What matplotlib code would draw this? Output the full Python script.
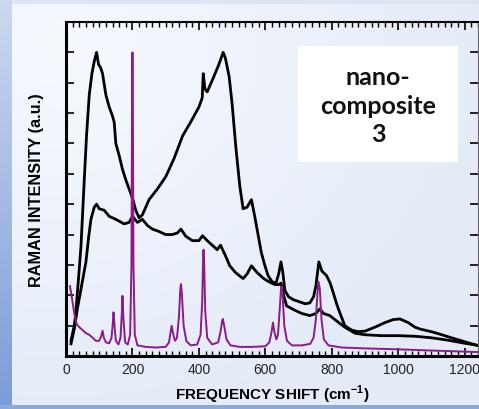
import numpy as np
import matplotlib.pyplot as plt
from matplotlib.patches import Rectangle

# spectrum A (two big humps)
freq_a = [15, 25, 30, 38, 45, 55, 62, 70, 78, 85, 92, 98, 104, 110, 120, 130, 140, 145, 150, 160,
          170, 180, 190, 200, 210, 220, 230, 250, 275, 300, 325, 351, 375, 400, 410, 413, 418, 425,
          441, 460, 473, 480, 491, 500, 511, 523, 533, 545, 558, 568, 578, 588, 598, 608, 620, 632,
          640, 647, 652, 659, 670, 685, 704, 720, 734, 745, 752, 761, 770, 784, 795, 804, 815, 825,
          839, 860, 880, 900, 930, 960, 985, 1005, 1030, 1050, 1065, 1100, 1125, 1160, 1200, 1240]
int_a = [0.5, 1.0, 1.5, 2.6, 3.6, 5.8, 7.3, 8.6, 9.3, 9.7, 10.0, 9.6, 9.5, 9.3, 8.6, 8.2, 7.9, 7.7, 7.0, 6.6,
         6.15, 5.8, 5.5, 5.2, 4.8, 4.55, 4.65, 5.15, 5.5, 5.9, 6.5, 7.25, 7.7, 8.2, 8.5, 9.3, 8.8, 8.7,
         9.1, 9.6, 10.0, 9.8, 9.2, 8.3, 6.9, 5.6, 4.85, 4.9, 5.15, 4.6, 4.0, 3.4, 3.0, 2.65, 2.45, 2.4,
         2.7, 3.1, 2.8, 2.15, 1.95, 1.85, 1.78, 1.72, 1.75, 1.95, 2.3, 3.1, 2.8, 2.65, 2.4, 2.1, 1.7, 1.4,
         1.0, 0.85, 0.8, 0.82, 0.95, 1.1, 1.2, 1.22, 1.1, 0.95, 0.89, 0.8, 0.72, 0.6, 0.47, 0.34]

# spectrum B (broad, flatter)
freq_b = [15, 25, 35, 45, 60, 68, 75, 85, 92, 100, 115, 130, 150, 175, 190, 200, 215, 230, 245, 260,
          280, 300, 320, 335, 346, 360, 380, 400, 411, 425, 440, 455, 465, 480, 493, 510, 533, 545,
          558, 575, 595, 613, 630, 640, 647, 655, 664, 690, 710, 734, 752, 764, 775, 794, 815, 839,
          870, 900, 950, 1000, 1050, 1100, 1150, 1200, 1240]
int_b = [0.4, 0.9, 1.6, 2.2, 3.1, 3.9, 4.5, 4.9, 5.0, 4.85, 4.8, 4.6, 4.5, 4.35, 4.4, 4.6, 4.4, 4.5, 4.3, 4.18,
         4.1, 4.0, 4.0, 4.05, 4.18, 3.95, 3.8, 3.8, 3.96, 3.8, 3.65, 3.5, 3.65, 3.3, 2.97, 2.75, 2.55, 2.7,
         2.97, 2.75, 2.55, 2.43, 2.35, 2.35, 2.4, 2.0, 1.65, 1.5, 1.4, 1.33, 1.4, 1.55, 1.4, 1.33, 1.15, 0.95,
         0.75, 0.7, 0.67, 0.67, 0.65, 0.6, 0.52, 0.42, 0.35]

# reference spectrum (purple, sharp lines)
freq_p = [12, 18, 25, 32, 40, 50, 60, 70, 80, 90, 100, 106, 110, 114, 120, 130, 137, 141, 143, 146,
          150, 158, 164, 168, 170, 173, 178, 186, 193, 197, 199, 200, 201, 203, 207, 215, 240, 270,
          300, 310, 315, 318, 322, 328, 334, 340, 344, 346, 349, 354, 362, 375, 395, 405, 410, 413,
          414, 416, 419, 425, 440, 458, 465, 470, 472, 476, 483, 495, 523, 560, 600, 612, 618, 623,
          627, 633, 638, 643, 647, 649, 652, 657, 665, 680, 710, 735, 745, 752, 757, 760, 764, 769,
          776, 790, 830, 900, 1000, 1100, 1240]
int_p = [2.3, 1.9, 1.4, 1.05, 0.95, 0.85, 0.75, 0.7, 0.6, 0.5, 0.5, 0.65, 0.83, 0.6, 0.45, 0.42, 0.6, 1.1, 1.44, 1.0,
         0.5, 0.38, 0.6, 1.4, 1.98, 1.2, 0.45, 0.38, 0.7, 3.0, 9.0, 10.0, 9.0, 3.0, 0.7, 0.35, 0.3, 0.28,
         0.3, 0.45, 0.8, 1.0, 0.75, 0.5, 0.6, 1.3, 2.2, 2.37, 2.0, 1.0, 0.5, 0.35, 0.38, 0.7, 1.8, 3.4,
         3.5, 3.0, 1.5, 0.6, 0.38, 0.45, 0.8, 1.15, 1.22, 1.0, 0.55, 0.35, 0.3, 0.3, 0.32, 0.45, 0.75, 1.1,
         0.8, 0.55, 0.7, 1.5, 2.2, 2.3, 2.0, 1.0, 0.5, 0.35, 0.35, 0.4, 0.6, 1.2, 2.1, 2.45, 2.2, 1.2,
         0.55, 0.35, 0.28, 0.25, 0.22, 0.18, 0.13]

label_text = "nano-\ncomposite\n3"

W, H = 479, 410
fig = plt.figure(figsize=(W / 100, H / 100), dpi=100)

# background gradient
bg = fig.add_axes([0, 0, 1, 1])
yy, xx = np.mgrid[0:H, 0:W]
d = np.clip(np.hypot((xx - 60) / 420.0, (yy - 40) / 380.0), 0, 1)
base = np.array([0.965, 0.975, 0.995])
far = np.array([0.898, 0.925, 0.972])
img = base[None, None, :] * (1 - d[..., None]) + far[None, None, :] * d[..., None]
img[:5, :] = [0.87, 0.90, 0.955]
t = yy[:, :12] / H
strip_top = np.array([0.80, 0.85, 0.94])
strip_bot = np.array([0.48, 0.61, 0.85])
img[:, :12] = strip_top * (1 - t[..., None]) + strip_bot * t[..., None]
img[406:, :] = [0.55, 0.66, 0.87]
bg.imshow(img, aspect='auto', extent=[0, 1, 0, 1])
bg.axis('off')

ax = fig.add_axes([66 / W, (H - 357) / H, (478 - 66) / W, (357 - 23) / H])
ax.patch.set_alpha(0)
ax.plot(freq_b, int_b, color='black', lw=2.0)
ax.plot(freq_a, int_a, color='black', lw=2.0)
ax.plot(freq_p, int_p, color='#8b1a8b', lw=1.4)

ax.set_xlim(0, 1240)
ax.set_ylim(0, 11)
ax.set_xticks(range(0, 1201, 200))
ax.set_xticks(range(0, 1241, 20), minor=True)
ax.set_yticks(range(1, 11))
ax.set_yticklabels([])
ax.tick_params(axis='x', which='major', direction='in', length=6, width=1.2, top=True,
               labelsize=10, pad=4)
ax.tick_params(axis='x', which='minor', direction='in', length=3.5, width=1.0, top=True)
ax.tick_params(axis='y', which='major', direction='in', length=6, width=1.2, right=True)
for lab in ax.get_xticklabels():
    lab.set_family('Liberation Sans')
    lab.set_color('#222222')
ax.spines['left'].set_linewidth(2.2)
ax.spines['bottom'].set_linewidth(2.2)
ax.spines['top'].set_linewidth(1.5)
ax.spines['right'].set_linewidth(0.8)
ax.spines['right'].set_color('#666666')

ax.set_xlabel('FREQUENCY SHIFT (cm$^{\\mathregular{-1}}$)', family='Liberation Sans',
              fontweight='bold', fontsize=11, labelpad=5)
ax.set_ylabel('RAMAN INTENSITY (a.u.)', family='Liberation Sans', fontweight='bold',
              fontsize=11.7, labelpad=12)

# label box
ax.add_patch(Rectangle(((298 - 66) / 412, (357 - 163) / 334), 160 / 412, 116 / 334,
                       transform=ax.transAxes, facecolor='white', edgecolor='none', zorder=3))
ax.text((378 - 66) / 412, (357 - 106) / 334, label_text, transform=ax.transAxes,
        ha='center', va='center', fontsize=18, fontweight='bold', family='Lato',
        linespacing=1.27, zorder=4, color='#111111')

fig.savefig('out.png', dpi=100)
